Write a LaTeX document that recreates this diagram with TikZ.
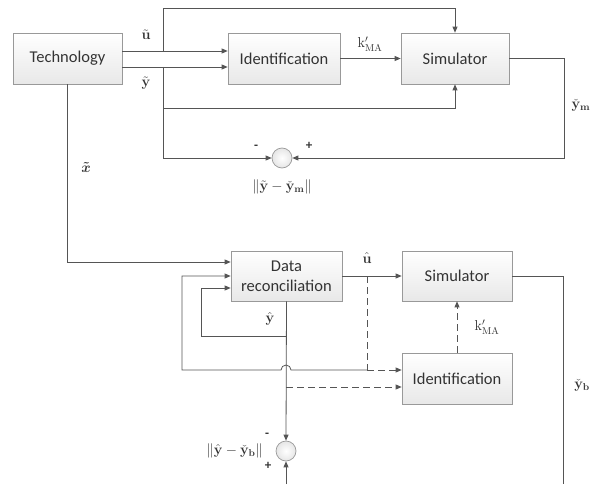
\documentclass[tikz,border=0pt]{standalone}
\usepackage{amsmath,amssymb}
\usepackage[no-math]{fontspec}
\setmainfont{Carlito}
\usetikzlibrary{arrows.meta,shadows,calc}
\definecolor{ln}{HTML}{555555}
\definecolor{tx}{HTML}{333333}
\tikzset{
  blk/.style={draw=gray!80, line width=0.7pt, top color=white, bottom color=gray!18,
    drop shadow={opacity=0.25, shadow xshift=1pt, shadow yshift=-1pt},
    font=\fontsize{16.5}{20}\selectfont, text=tx, align=center, inner sep=0pt},
  sumc/.style={circle, draw=gray!80, line width=0.7pt, inner color=white, outer color=gray!20,
    minimum size=20pt, inner sep=0pt},
  wire/.style={draw=ln, line width=0.8pt},
  arr/.style={wire, -{Triangle[length=6pt,width=5pt]}},
  dsh/.style={dash pattern=on 7pt off 4pt},
  lbl/.style={text=tx, font=\fontsize{14}{16}\selectfont, inner sep=0pt},
  sgn/.style={text=tx, font=\fontsize{13}{15}\selectfont\bfseries, inner sep=0pt}
}
\begin{document}
\begin{tikzpicture}[x=1pt,y=-1pt]
\useasboundingbox (0,0) rectangle (593,484);
% blocks
\node[blk, minimum width=109pt, minimum height=51pt] (tech) at (67.5,58.5) {Technology};
\node[blk, minimum width=112pt, minimum height=51pt] (id1) at (284,58.5) {Identification};
\node[blk, minimum width=108pt, minimum height=51pt] (sim1) at (455,58.5) {Simulator};
\node[sumc] (s1) at (282,158) {};
\node[blk, minimum width=111pt, minimum height=50pt] (dr) at (286.5,276) {Data\\reconciliation};
\node[blk, minimum width=110pt, minimum height=50pt] (sim2) at (457,276) {Simulator};
\node[blk, minimum width=110pt, minimum height=51pt] (id2) at (457,378.5) {Identification};
\node[sumc] (s2) at (286,451) {};
% coordinates
\coordinate (bu) at (163,51);
\coordinate (bu2) at (163,8);
\coordinate (by) at (163,67);
\coordinate (by2) at (163,108);
\coordinate (by3) at (163,158);
\coordinate (c1) at (564,58.5);
\coordinate (du) at (367,276);
\coordinate (du2) at (367,370);
\coordinate (hopr) at (291,370);
\coordinate (lo) at (182,370);
\coordinate (yh1) at (286,336);
\coordinate (yh2) at (201,336);
\coordinate (yh3) at (286,387);
\coordinate (c2) at (563,276);
\coordinate (c2b) at (563,484);
\coordinate (fb) at (286,484);
% top part
\draw[arr] ([yshift=7.5pt]tech.east) -- ([yshift=7.5pt]id1.west);
\draw[arr] ([yshift=-8.5pt]tech.east) -- ([yshift=-8.5pt]id1.west);
\draw[arr] (bu) -- (bu2) -| (sim1.north);
\draw[wire] (by) -- (by3);
\draw[arr] (by2) -| (sim1.south);
\draw[arr] (by3) -- (s1.west);
\draw[arr] (id1.east) -- (sim1.west);
\draw[arr] (sim1.east) -- (c1) |- (s1.east);
% x tilde
\draw[arr] (tech.south) |- ([yshift=14pt]dr.west);
% bottom part
\draw[arr] (dr.east) -- (sim2.west);
\draw[wire, dsh] (du) -- (du2);
\draw[arr, dsh] (du2) -- ([yshift=8.5pt]id2.west);
\draw[arr] (du2) -- (hopr) arc[start angle=0, end angle=180, radius=5pt] -- (lo) |- (dr.west);
\draw[arr] (dr.south) -- (s2.north);
\draw[arr] (yh1) -- (yh2) |- ([yshift=-12pt]dr.west);
\draw[arr, dsh] (yh3) -- ([yshift=-8.5pt]id2.west);
\draw[arr, dsh] (id2.north) -- (sim2.south);
\draw[wire] (sim2.east) -- (c2) -- (c2b);
\draw[arr] (fb) -- (s2.south);
% labels
\node[lbl] at (146,35) {$\tilde{\mathbf{u}}$};
\node[lbl] at (146,83) {$\tilde{\mathbf{y}}$};
\node[lbl] at (370,44) {$\mathrm{k}'_{\mathrm{MA}}$};
\node[lbl] at (581,105) {$\check{\mathbf{y}}_{\mathbf{m}}$};
\node[sgn] at (256,147) {-};
\node[sgn] at (309,146) {+};
\node[lbl] at (282,187) {$\|\tilde{\mathbf{y}}-\check{\mathbf{y}}_{\mathbf{m}}\|$};
\node[lbl] at (86,167) {$\boldsymbol{\tilde{x}}$};
\node[lbl] at (367,258) {$\hat{\mathbf{u}}$};
\node[lbl] at (270,319) {$\hat{\mathbf{y}}$};
\node[lbl] at (487,327) {$\mathrm{k}'_{\mathrm{MA}}$};
\node[lbl] at (582,385) {$\check{\mathbf{y}}_{\mathbf{b}}$};
\node[lbl, anchor=east] at (263,451) {$\|\hat{\mathbf{y}}-\check{\mathbf{y}}_{\mathbf{b}}\|$};
\node[sgn] at (267,435) {-};
\node[sgn] at (268,466) {+};
\end{tikzpicture}
\end{document}
